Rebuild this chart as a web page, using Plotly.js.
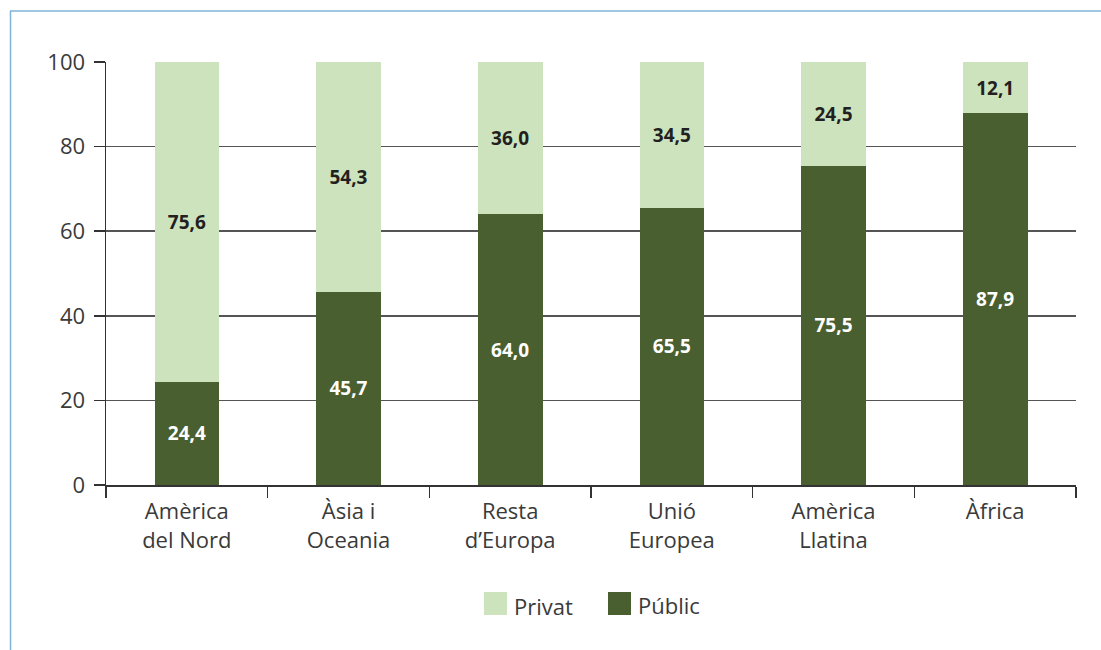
<!DOCTYPE html>
<html>
<head>
<meta charset="utf-8">
<script src="https://cdn.plot.ly/plotly-3.0.1.min.js"></script>
<style>html,body{margin:0;padding:0;background:#fff;}#chart{width:1101px;height:650px;}</style>
</head>
<body>
<div id="chart"></div>
<script>
const categories = ["Amèrica<br>del Nord", "Àsia i<br>Oceania", "Resta<br>d’Europa", "Unió<br>Europea", "Amèrica<br>Llatina", "Àfrica"];
const publicValues = [24.4, 45.7, 64.0, 65.5, 75.5, 87.9];
const privatValues = [75.6, 54.3, 36.0, 34.5, 24.5, 12.1];
const yTicks = [0, 20, 40, 60, 80, 100];
const seriesNames = ["Públic", "Privat"];

const fmt = v => v.toFixed(1).replace(".", ",");
const font = "'Open Sans', 'Noto Sans', sans-serif";
const darkGreen = "#4a5f2f";
const lightGreen = "#cde3bd";

const traces = [
  {
    type: "bar", name: seriesNames[0], x: categories, y: publicValues,
    marker: {color: darkGreen}, text: publicValues.map(fmt),
    textposition: "inside", insidetextanchor: "middle",
    textfont: {family: font, size: 19, color: "#ffffff", weight: "bold"},
    hoverinfo: "skip", showlegend: false
  },
  {
    type: "bar", name: seriesNames[1], x: categories, y: privatValues,
    marker: {color: lightGreen}, text: privatValues.map(fmt),
    textposition: "inside", insidetextanchor: "middle",
    textfont: {family: font, size: 19, color: "#231f20", weight: "bold"},
    hoverinfo: "skip", showlegend: false
  }
];

// pixel -> paper helpers (plot area: x 106..1076, y 62..485)
const L = 106, R = 1076, T = 62, B = 485;
const px = p => (p - L) / (R - L);
const py = p => (B - p) / (B - T);

const layout = {
  width: 1101, height: 650,
  margin: {l: L, r: 1101 - R, t: T, b: 650 - B},
  barmode: "stack", bargap: 0.6,
  paper_bgcolor: "#ffffff", plot_bgcolor: "#ffffff",
  font: {family: font, color: "#3a3a3a", size: 22},
  showlegend: false,
  xaxis: {
    showline: true, linecolor: "#333333", linewidth: 1.5,
    ticks: "outside", tickson: "boundaries", ticklen: 11, tickcolor: "#333333", tickwidth: 1.5,
    tickfont: {family: font, size: 22, color: "#3a3a3a"},
    ticklabelstandoff: 6,
    showgrid: false, fixedrange: true
  },
  yaxis: {
    range: [0, 100], tickvals: yTicks, ticktext: yTicks.map(String),
    showline: true, linecolor: "#333333", linewidth: 1.5,
    ticks: "outside", ticklen: 11, tickcolor: "#333333", tickwidth: 1.5,
    showgrid: true, gridcolor: "#555555", gridwidth: 1.5,
    zeroline: false,
    tickfont: {family: font, size: 22, color: "#3a3a3a"},
    ticklabelstandoff: 4,
    fixedrange: true
  },
  shapes: [
    {type: "line", xref: "paper", yref: "paper", x0: px(10), x1: px(1101), y0: py(11), y1: py(11), line: {color: "#7fb3d9", width: 1.5}},
    {type: "line", xref: "paper", yref: "paper", x0: px(10.5), x1: px(10.5), y0: py(11), y1: py(650), line: {color: "#7fb3d9", width: 1.5}},
    {type: "rect", xref: "paper", yref: "paper", x0: px(484), x1: px(507), y0: py(615), y1: py(592), fillcolor: lightGreen, line: {width: 0}},
    {type: "rect", xref: "paper", yref: "paper", x0: px(608), x1: px(631), y0: py(615), y1: py(592), fillcolor: darkGreen, line: {width: 0}}
  ],
  annotations: [
    {xref: "paper", yref: "paper", x: px(512), y: py(606), xanchor: "left", yanchor: "middle", text: seriesNames[1], showarrow: false, font: {family: font, size: 22, color: "#3a3a3a"}},
    {xref: "paper", yref: "paper", x: px(636), y: py(605), xanchor: "left", yanchor: "middle", text: seriesNames[0], showarrow: false, font: {family: font, size: 22, color: "#3a3a3a"}}
  ]
};

Plotly.newPlot("chart", traces, layout, {staticPlot: true, displayModeBar: false});
</script>
</body>
</html>
